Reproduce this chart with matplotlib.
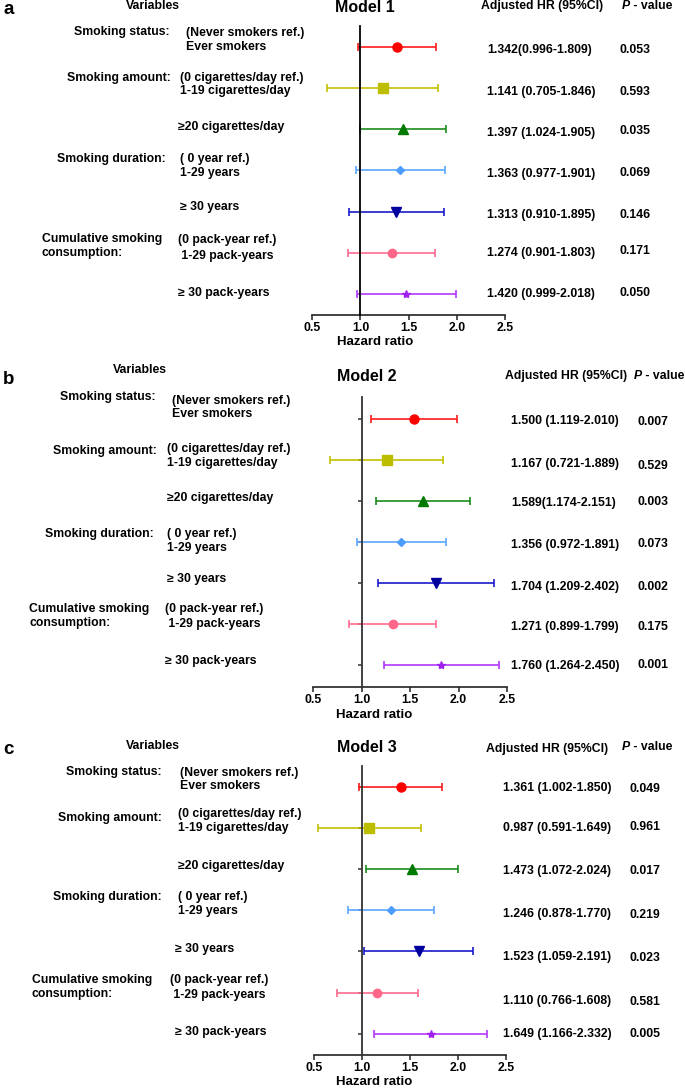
import matplotlib
matplotlib.use("Agg")
import matplotlib.pyplot as plt

plt.rcParams['font.family'] = ['Liberation Sans', 'DejaVu Sans']
plt.rcParams['font.weight'] = 'bold'

W, H = 685, 1088

# ---- data ----
models = ["Model 1", "Model 2", "Model 3"]
panel_letters = ["a", "b", "c"]

group_names = ["Smoking status:", "Smoking amount:", "Smoking duration:",
               "Cumulative smoking\nconsumption:"]
ref_labels = ["(Never smokers ref.)", "(0 cigarettes/day ref.)",
              "( 0 year ref.)", "(0 pack-year ref.)"]
row_labels = ["Ever smokers", "1-19 cigarettes/day", "\u226520 cigarettes/day",
              "1-29 years", "\u2265 30 years", " 1-29 pack-years",
              "\u2265 30 pack-years"]

# plotted point / CI positions as drawn in the figure
m1_point = [1.379, 1.230, 1.441, 1.414, 1.369, 1.327, 1.476]
m1_lower = [0.974, 0.656, 0.998, 0.953, 0.877, 0.874, 0.967]
m1_upper = [1.788, 1.801, 1.885, 1.874, 1.864, 1.777, 1.988]

m2_point = [1.541, 1.259, 1.634, 1.407, 1.766, 1.321, 1.821]
m2_lower = [1.093, 0.669, 1.148, 0.948, 1.172, 0.872, 1.231]
m2_upper = [1.986, 1.845, 2.121, 1.866, 2.362, 1.772, 2.414]

m3_point = [1.403, 1.073, 1.521, 1.299, 1.590, 1.160, 1.715]
m3_lower = [0.972, 0.538, 1.045, 0.851, 1.021, 0.736, 1.128]
m3_upper = [1.830, 1.611, 2.003, 1.750, 2.160, 1.583, 2.306]

m1_hr = ["1.342(0.996-1.809)", "1.141 (0.705-1.846)", "1.397 (1.024-1.905)",
         "1.363 (0.977-1.901)", "1.313 (0.910-1.895)", "1.274 (0.901-1.803)",
         "1.420 (0.999-2.018)"]
m1_p = ["0.053", "0.593", "0.035", "0.069", "0.146", "0.171", "0.050"]

m2_hr = ["1.500 (1.119-2.010)", "1.167 (0.721-1.889)", "1.589(1.174-2.151)",
         "1.356 (0.972-1.891)", "1.704 (1.209-2.402)", "1.271 (0.899-1.799)",
         "1.760 (1.264-2.450)"]
m2_p = ["0.007", "0.529", "0.003", "0.073", "0.002", "0.175", "0.001"]

m3_hr = ["1.361 (1.002-1.850)", "0.987 (0.591-1.649)", "1.473 (1.072-2.024)",
         "1.246 (0.878-1.770)", "1.523 (1.059-2.191)", "1.110 (0.766-1.608)",
         "1.649 (1.166-2.332)"]
m3_p = ["0.049", "0.961", "0.017", "0.219", "0.023", "0.581", "0.005"]

x_ticks = [0.5, 1.0, 1.5, 2.0, 2.5]

colors = ['#ff1a1a', '#c4c000', '#1a8c1a', '#5aa5ff', '#1a1acc', '#ff6a8e', '#b536ff']
marker_colors = ['#ff0000', '#bdbd00', '#007a00', '#4d9cff', '#00009e', '#ff6688', '#a020f0']
markers = ['o', 's', '^', 'D', 'v', 'o', '*']
msizes = [6.5, 7, 6.5, 4.5, 6.5, 6, 6]

FS = 8.8

# ---- layout (pixel positions in the 685x1088 canvas) ----
layout = [
    dict(ax=(312.3, 26, 505, 315), spine='black', yticks=False,
         letter=(3, 9), variables=(153, 6), title=(365, 8),
         hr_head=(542, 6), p_head=(622, 6), xlabel=(375, 342),
         group=[(170, 32), (171, 78), (166, 159), (42, 239)],
         ref=[(186, 33), (180, 78), (180, 159), (178, 240)],
         rows=[(186, 47), (180, 91), (178, 127), (180, 173), (180, 207), (178, 256), (178, 293)],
         hr_x=487, hr_y=[50, 92, 133, 174, 215, 253, 294],
         p_x=620, p_y=[50, 92, 131, 173, 215, 251, 293]),
    dict(ax=(313.3, 397.3, 506.9, 686.7), spine='#333333', yticks=True,
         letter=(3, 379), variables=(140, 370), title=(367, 377),
         hr_head=(566, 376), p_head=(634, 376), xlabel=(374, 715),
         group=[(156, 397), (157, 451), (154, 534), (29, 609)],
         ref=[(172, 401), (167, 449), (167, 534), (165, 609)],
         rows=[(172, 414), (167, 463), (167, 498), (167, 548), (167, 579), (165, 624), (165, 661)],
         hr_x=511, hr_y=[421, 464, 503, 545, 587, 627, 666],
         p_x=638, p_y=[422, 466, 502, 544, 587, 627, 665]),
    dict(ax=(314, 765.7, 506, 1055), spine='#333333', yticks=True,
         letter=(3, 749), variables=(153, 746), title=(367, 748),
         hr_head=(547, 749), p_head=(622, 747), xlabel=(374, 1082),
         group=[(162, 772), (162, 818), (162, 897), (32, 980)],
         ref=[(180, 773), (178, 814), (178, 897), (170, 980)],
         rows=[(180, 786), (178, 828), (178, 866), (178, 911), (175, 949), (170, 995), (175, 1032)],
         hr_x=503, hr_y=[788, 828, 871, 914, 957, 1001, 1034],
         p_x=630, p_y=[789, 827, 871, 915, 958, 1002, 1034]),
]

points = [m1_point, m2_point, m3_point]
lowers = [m1_lower, m2_lower, m3_lower]
uppers = [m1_upper, m2_upper, m3_upper]
hr_texts = [m1_hr, m2_hr, m3_hr]
p_texts = [m1_p, m2_p, m3_p]


def fx(x):
    return x / W


def fy(y):
    return 1 - y / H


def ftext(x, y, s, size=FS, ha='left', **kw):
    fig.text(fx(x), fy(y), s, ha=ha, va='center', fontsize=size,
             fontweight='bold', **kw)


fig = plt.figure(figsize=(W / 100, H / 100), dpi=100)

for k in range(3):
    L = layout[k]
    x0, y0, x1, y1 = L['ax']
    ax = fig.add_axes([fx(x0), fy(y1), fx(x1 - x0), (y1 - y0) / H])

    rows = list(range(1, 8))
    for i in range(7):
        p, lo, hi = points[k][i], lowers[k][i], uppers[k][i]
        ax.errorbar([p], [rows[i]], xerr=[[p - lo], [hi - p]], fmt='none',
                    ecolor=colors[i], elinewidth=1.2, capsize=3, capthick=1.2,
                    zorder=2)
        ax.plot([p], [rows[i]], marker=markers[i], color=marker_colors[i],
                ms=msizes[i], ls='none', zorder=3)

    ax.set_xlim(0.5, 2.5)
    ax.set_ylim(7.52, 0.48)
    ax.spines['top'].set_visible(False)
    ax.spines['right'].set_visible(False)
    ax.spines['left'].set_position(('data', 1.0))
    ax.spines['left'].set_color(L['spine'])
    ax.spines['left'].set_linewidth(1.3)
    ax.spines['left'].set_zorder(4)
    ax.spines['bottom'].set_linewidth(1.2)
    ax.spines['bottom'].set_color('#222222')
    ax.set_xticks(x_ticks)
    ax.set_xticklabels([f"{t:.1f}" for t in x_ticks], fontsize=8.8, fontweight='bold')
    ax.tick_params(axis='x', length=3.5, width=1.1, pad=1.5, color='#222222')
    if L['yticks']:
        ax.set_yticks(rows)
        ax.set_yticklabels([])
        ax.tick_params(axis='y', length=3, width=1.1, color=L['spine'])
    else:
        ax.set_yticks([])
    ax.patch.set_alpha(0)

    # headings
    ftext(L['letter'][0], L['letter'][1], panel_letters[k], size=13.5)
    ftext(L['variables'][0], L['variables'][1], "Variables", ha='center')
    ftext(L['title'][0], L['title'][1], models[k], size=11.5, ha='center')
    ftext(L['hr_head'][0], L['hr_head'][1], "Adjusted HR (95%CI)", ha='center')
    ftext(L['p_head'][0], L['p_head'][1], "P", fontstyle='italic')
    ftext(L['p_head'][0] + 8, L['p_head'][1], " - value")
    ftext(L['xlabel'][0], L['xlabel'][1], "Hazard ratio", size=9.5, ha='center')

    # left column of variable names
    for g in range(4):
        gx, gy = L['group'][g]
        lines = group_names[g].split("\n")
        if len(lines) == 1:
            ftext(gx, gy, lines[0], ha='right')
        else:
            for j, line in enumerate(lines):
                ftext(gx, gy + 14 * j, line)
        rx, ry = L['ref'][g]
        ftext(rx, ry, ref_labels[g])
    for i in range(7):
        lx, ly = L['rows'][i]
        ftext(lx, ly, row_labels[i])
        ftext(L['hr_x'], L['hr_y'][i], hr_texts[k][i])
        ftext(L['p_x'], L['p_y'][i], p_texts[k][i])

fig.savefig("out.png", dpi=100)
